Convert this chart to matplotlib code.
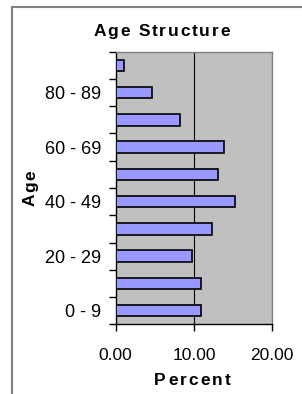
"""Age structure horizontal bar chart."""

import matplotlib
matplotlib.use("Agg")
import matplotlib.pyplot as plt
from matplotlib.font_manager import FontProperties, findfont
from matplotlib.ft2font import FT2Font
from matplotlib.lines import Line2D

age_groups = ["0 - 9", "10 - 19", "20 - 29", "30 - 39", "40 - 49",
              "50 - 59", "60 - 69", "70 - 79", "80 - 89", "90+"]
percent = [10.9, 10.9, 9.8, 12.3, 15.2, 13.1, 13.8, 8.2, 4.6, 1.0]
x_ticks = [0, 10, 20]
x_tick_labels = ["0.00", "10.00", "20.00"]

W, H = 302, 394
FAMILY = ["Liberation Sans", "DejaVu Sans"]
plt.rcParams["font.family"] = FAMILY

fig = plt.figure(figsize=(W / 100, H / 100), dpi=100)
fig.patch.set_facecolor("white")


def tracked_text(x_px, y_px, s, size, track, vertical=False):
    """Bold text with extra letter spacing, centred on x (or y if vertical), baseline at the other."""
    prop = FontProperties(family=FAMILY, weight="bold", size=size)
    font = FT2Font(findfont(prop))
    font.set_size(size, 100)
    adv = [font.load_char(ord(c)).linearHoriAdvance / 65536 for c in s]
    total = sum(adv) + track * (len(s) - 1)
    pos = (y_px + total / 2) if vertical else (x_px - total / 2)
    for c, a in zip(s, adv):
        if vertical:
            fig.text(x_px / W, 1 - pos / H, c, fontproperties=prop, rotation=90,
                     rotation_mode="anchor", ha="left", va="baseline")
            pos -= a + track
        else:
            fig.text(pos / W, 1 - y_px / H, c, fontproperties=prop,
                     rotation_mode="anchor", ha="left", va="baseline")
            pos += a + track


# outer chart frame (left and top edges visible)
fig.add_artist(Line2D([11.5 / W, 11.5 / W], [0, 1 - 6.5 / H], transform=fig.transFigure,
                      color="#808080", linewidth=1.5))
fig.add_artist(Line2D([11.5 / W, 1], [1 - 6.5 / H, 1 - 6.5 / H], transform=fig.transFigure,
                      color="#808080", linewidth=1.5))

ax = fig.add_axes([115.7 / W, 1 - 324.3 / H, 156.6 / W, 272.6 / H])
ax.set_facecolor("#c0c0c0")

pos = list(range(len(age_groups)))
ax.barh(pos, percent, height=0.42, color="#9999ff", edgecolor="black", linewidth=1.2, zorder=3)
ax.axvline(10, color="black", linewidth=0.8, zorder=2)

ax.set_xlim(0, 20)
ax.set_ylim(-0.5, len(age_groups) - 0.5)
ax.set_xticks(x_ticks)
ax.set_xticklabels(x_tick_labels, fontsize=12.5)
ax.set_yticks([p - 0.5 for p in pos] + [len(age_groups) - 0.5])
ax.set_yticklabels([])
ax.set_yticks(pos[::2], minor=True)
ax.set_yticklabels(age_groups[::2], minor=True, fontsize=13)
ax.tick_params(axis="y", which="major", direction="out", length=5, width=1, color="black")
ax.tick_params(axis="y", which="minor", length=0, pad=10.5)
ax.tick_params(axis="x", direction="out", length=5, width=1, color="black", pad=12)

for side in ["top", "right"]:
    ax.spines[side].set_color("#808080")
    ax.spines[side].set_linewidth(1)
for side in ["left", "bottom"]:
    ax.spines[side].set_color("black")
    ax.spines[side].set_linewidth(1)

tracked_text(161.5, 35.7, "Age Structure", 12.5, 1.8)
tracked_text(192.5, 385, "Percent", 12.5, 2.1)
tracked_text(35, 188, "Age", 12.5, 1.6, vertical=True)

fig.savefig("out.png", dpi=100)
